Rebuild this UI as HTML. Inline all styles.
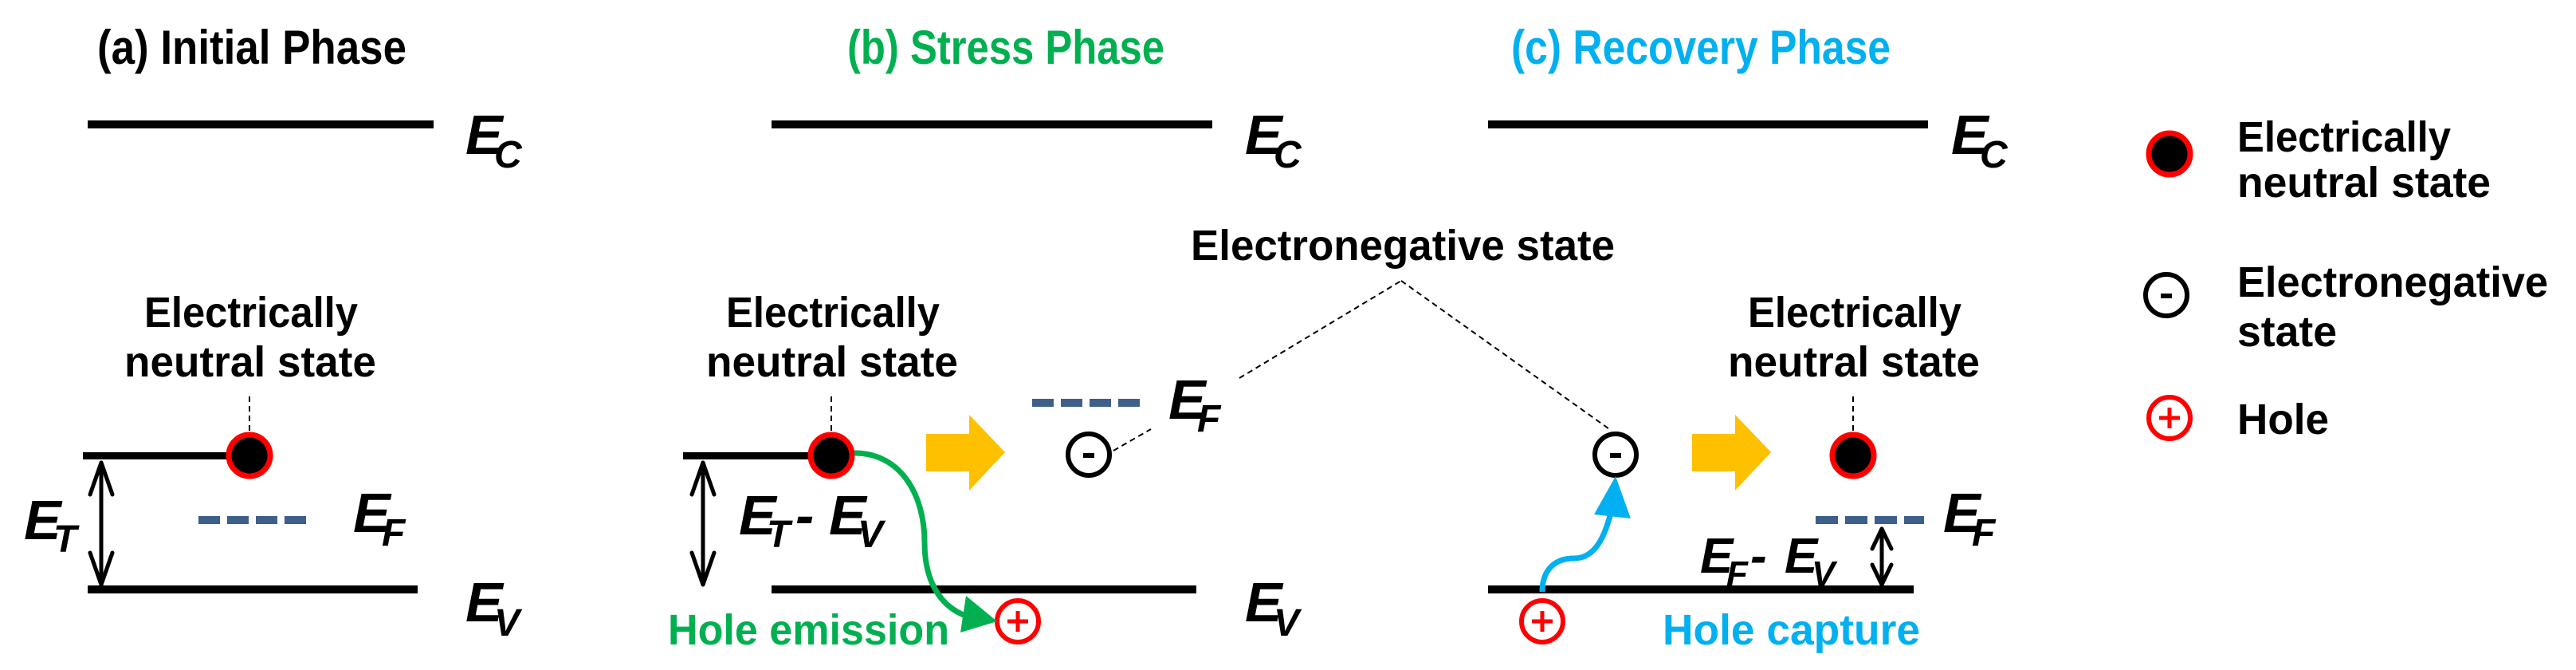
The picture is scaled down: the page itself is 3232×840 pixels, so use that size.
<!DOCTYPE html>
<html><head><meta charset="utf-8"><style>
html,body{margin:0;padding:0;background:#fff;}
svg{display:block;}
text{font-family:"Liberation Sans",sans-serif;font-weight:bold;}
.t{font-size:60px;}
.l{font-size:54px;fill:#000;}
.e{font-size:70px;font-style:italic;}
.s{font-size:48px;font-style:italic;}
.e2{font-size:62px;font-style:italic;}
.s2{font-size:44px;font-style:italic;}
</style></head><body>
<svg width="3232" height="840" viewBox="0 0 3232 840" xmlns="http://www.w3.org/2000/svg">
<defs>
<g id="neu"><circle r="26" fill="#000" stroke="#f00" stroke-width="7"/></g>
<g id="neg"><circle r="26" fill="#fff" stroke="#000" stroke-width="6"/><rect x="-7" y="-2" width="14" height="6" fill="#000"/></g>
<g id="hole"><circle r="26" fill="#fff" stroke="#f00" stroke-width="6"/><rect x="-13" y="-2.5" width="26" height="5" fill="#f00"/><rect x="-2.5" y="-13" width="5" height="26" fill="#f00"/></g>
</defs>

<!-- Titles -->
<text class="t" x="122" y="80" textLength="388" lengthAdjust="spacingAndGlyphs" fill="#000">(a) Initial Phase</text>
<text class="t" x="1063" y="80" textLength="398" lengthAdjust="spacingAndGlyphs" fill="#00b050">(b) Stress Phase</text>
<text class="t" x="1896" y="80" textLength="476" lengthAdjust="spacingAndGlyphs" fill="#00b0f0">(c) Recovery Phase</text>

<!-- EC lines -->
<g fill="#000">
<rect x="110" y="151" width="434" height="10"/>
<rect x="968" y="151" width="553" height="10"/>
<rect x="1867" y="151" width="552" height="10"/>
<!-- EV lines -->
<rect x="110" y="734" width="414" height="10"/>
<rect x="968" y="734" width="533" height="10"/>
<rect x="1867" y="734" width="534" height="10"/>
<!-- ET lines -->
<rect x="104" y="567" width="185" height="9"/>
<rect x="857" y="567" width="190" height="9"/>
</g>

<!-- E labels -->
<g fill="#000">
<text class="e" x="584" y="193">E</text><text class="s" x="620" y="210">C</text>
<text class="e" x="1562" y="193">E</text><text class="s" x="1598" y="210">C</text>
<text class="e" x="2448" y="193">E</text><text class="s" x="2484" y="210">C</text>
<text class="e" x="584" y="779">E</text><text class="s" x="620" y="797">V</text>
<text class="e" x="1562" y="779">E</text><text class="s" x="1598" y="797">V</text>
<text class="e" x="30" y="676">E</text><text class="s" x="67" y="692">T</text>
<text class="e" x="443" y="667">E</text><text class="s" x="479" y="684">F</text>
<text class="e" x="1466" y="525">E</text><text class="s" x="1502" y="541">F</text>
<text class="e" x="2438" y="667">E</text><text class="s" x="2474" y="684">F</text>
<text class="e" x="927" y="670">E</text><text class="s" x="962" y="686">T</text>
<text class="e" x="998" y="670" font-style="normal">-</text>
<text class="e" x="1040" y="670">E</text><text class="s" x="1076" y="686">V</text>
<text class="e2" x="2133" y="718">E</text><text class="s2" x="2166" y="734">F</text>
<text class="e2" x="2196" y="718" font-style="normal">-</text>
<text class="e2" x="2239" y="718">E</text><text class="s2" x="2273" y="734">V</text>
</g>

<!-- EF dashes -->
<g fill="#3e5f8a">
<rect x="249" y="647" width="27" height="10"/><rect x="285" y="647" width="27" height="10"/><rect x="321" y="647" width="27" height="10"/><rect x="357" y="647" width="27" height="10"/>
<rect x="1295" y="500" width="27" height="10"/><rect x="1331" y="500" width="27" height="10"/><rect x="1367" y="500" width="27" height="10"/><rect x="1403" y="500" width="27" height="10"/>
<rect x="2278" y="647" width="28" height="10"/><rect x="2315" y="647" width="28" height="10"/><rect x="2352" y="647" width="28" height="10"/><rect x="2389" y="647" width="25" height="10"/>
</g>

<!-- Labels -->
<text class="l" x="181" y="410" textLength="268" lengthAdjust="spacingAndGlyphs">Electrically</text>
<text class="l" x="156" y="472" textLength="316" lengthAdjust="spacingAndGlyphs">neutral state</text>
<text class="l" x="911" y="410" textLength="268" lengthAdjust="spacingAndGlyphs">Electrically</text>
<text class="l" x="886" y="472" textLength="316" lengthAdjust="spacingAndGlyphs">neutral state</text>
<text class="l" x="2193" y="410" textLength="268" lengthAdjust="spacingAndGlyphs">Electrically</text>
<text class="l" x="2168" y="472" textLength="316" lengthAdjust="spacingAndGlyphs">neutral state</text>
<text class="l" x="1494" y="326" textLength="532" lengthAdjust="spacingAndGlyphs">Electronegative state</text>
<text class="l" x="838" y="808" textLength="353" lengthAdjust="spacingAndGlyphs" fill="#00b050" style="fill:#00b050">Hole emission</text>
<text class="l" x="2086" y="808" textLength="323" lengthAdjust="spacingAndGlyphs" style="fill:#00b0f0">Hole capture</text>

<!-- Legend -->
<use href="#neu" x="2722" y="193"/>
<use href="#neg" x="2718" y="370"/>
<use href="#hole" x="2722" y="524"/>
<text class="l" x="2807" y="190" textLength="268" lengthAdjust="spacingAndGlyphs">Electrically</text>
<text class="l" x="2807" y="247" textLength="318" lengthAdjust="spacingAndGlyphs">neutral state</text>
<text class="l" x="2807" y="372" textLength="390" lengthAdjust="spacingAndGlyphs">Electronegative</text>
<text class="l" x="2807" y="434" textLength="125" lengthAdjust="spacingAndGlyphs">state</text>
<text class="l" x="2807" y="544" textLength="115" lengthAdjust="spacingAndGlyphs">Hole</text>

<!-- dashed connectors -->
<g stroke="#000" stroke-width="2" stroke-dasharray="7 5" fill="none">
<line x1="313" y1="497" x2="313" y2="541"/>
<line x1="1043" y1="497" x2="1043" y2="541"/>
<line x1="2325" y1="497" x2="2325" y2="541"/>
<line x1="1397" y1="565" x2="1444" y2="538"/>
<line x1="1555" y1="474" x2="1758" y2="352"/>
<polyline points="1758,352 2022,540"/>
</g>

<!-- double arrows -->
<g stroke="#000" stroke-width="5" fill="none" stroke-linecap="round" stroke-linejoin="round">
<line x1="127" y1="580" x2="127" y2="732"/>
<polyline points="113,620 127,580 141,620"/>
<polyline points="113,693 127,733 141,693"/>
<line x1="882" y1="580" x2="882" y2="732"/>
<polyline points="868,620 882,580 896,620"/>
<polyline points="868,693 882,733 896,693"/>
<line x1="2361" y1="663" x2="2361" y2="733"/>
<polyline points="2349,688 2361,663 2373,688"/>
<polyline points="2349,708 2361,733 2373,708"/>
</g>

<!-- circles in panels -->
<use href="#neu" x="313" y="571"/>
<use href="#neu" x="1043" y="571"/>
<use href="#neu" x="2325" y="571"/>
<use href="#neg" x="1366" y="570"/>
<use href="#neg" x="2027" y="570"/>
<use href="#hole" x="1277" y="779"/>
<use href="#hole" x="1935" y="779"/>

<!-- green emission arrow -->
<path d="M1072,568 C1130,568 1160,620 1160,680 C1160,735 1185,765 1218,774" stroke="#00b050" stroke-width="7" fill="none"/>
<polygon points="1251,779 1205,793 1212,747" fill="#00b050"/>

<!-- blue capture arrow -->
<path d="M1935,742 C1935,715 1950,700 1975,700 C2005,700 2015,665 2022,640" stroke="#00b0f0" stroke-width="7" fill="none"/>
<polygon points="2027,597 2000,645 2046,650" fill="#00b0f0"/>

<!-- yellow block arrows -->
<polygon points="1162,544 1216,544 1216,520 1261,567 1216,615 1216,591 1162,591" fill="#ffc000"/>
<polygon points="2123,544 2177,544 2177,520 2222,567 2177,615 2177,591 2123,591" fill="#ffc000"/>
</svg>
</body></html>
